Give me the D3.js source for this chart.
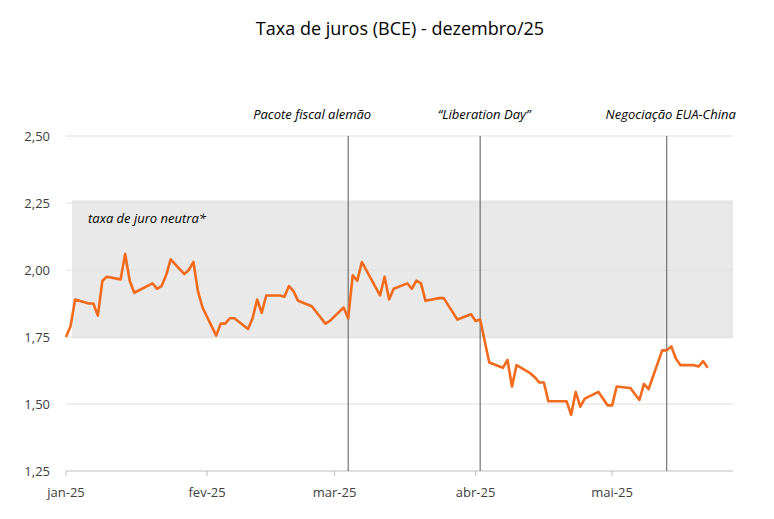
<!DOCTYPE html>
<html><head><meta charset="utf-8">
<script src="https://cdn.jsdelivr.net/npm/d3@7"></script>
<style>body{margin:0;background:#fff}text{font-family:"Open Sans","Liberation Sans",sans-serif}</style>
</head><body><svg id="c" width="774" height="519"></svg>
<script>
const dates = ["2025-01-01","2025-01-02","2025-01-03","2025-01-06","2025-01-07","2025-01-08","2025-01-09","2025-01-10","2025-01-13","2025-01-14","2025-01-15","2025-01-16","2025-01-20","2025-01-21","2025-01-22","2025-01-23","2025-01-24","2025-01-27","2025-01-28","2025-01-29","2025-01-30","2025-01-31","2025-02-03","2025-02-04","2025-02-05","2025-02-06","2025-02-07","2025-02-10","2025-02-11","2025-02-12","2025-02-13","2025-02-14","2025-02-17","2025-02-18","2025-02-19","2025-02-20","2025-02-21","2025-02-24","2025-02-27","2025-02-28","2025-03-03","2025-03-04","2025-03-05","2025-03-06","2025-03-07","2025-03-11","2025-03-12","2025-03-13","2025-03-14","2025-03-17","2025-03-18","2025-03-19","2025-03-20","2025-03-21","2025-03-24","2025-03-25","2025-03-28","2025-03-31","2025-04-01","2025-04-02","2025-04-04","2025-04-07","2025-04-08","2025-04-09","2025-04-10","2025-04-13","2025-04-14","2025-04-15","2025-04-16","2025-04-17","2025-04-21","2025-04-22","2025-04-23","2025-04-24","2025-04-25","2025-04-28","2025-04-30","2025-05-01","2025-05-02","2025-05-05","2025-05-07","2025-05-08","2025-05-09","2025-05-12","2025-05-13","2025-05-14","2025-05-15","2025-05-16","2025-05-19","2025-05-20","2025-05-21","2025-05-22"];
const rates = [1.75,1.79,1.89,1.875,1.875,1.83,1.96,1.975,1.965,2.06,1.96,1.915,1.95,1.93,1.94,1.98,2.04,1.985,2.00,2.03,1.92,1.86,1.755,1.80,1.80,1.82,1.82,1.78,1.82,1.89,1.84,1.905,1.905,1.90,1.94,1.92,1.885,1.865,1.80,1.81,1.86,1.82,1.98,1.96,2.03,1.905,1.975,1.89,1.93,1.95,1.93,1.96,1.95,1.885,1.895,1.895,1.815,1.835,1.81,1.815,1.655,1.635,1.665,1.565,1.645,1.615,1.60,1.58,1.58,1.51,1.51,1.46,1.545,1.49,1.52,1.545,1.495,1.495,1.565,1.56,1.515,1.575,1.555,1.70,1.70,1.715,1.67,1.645,1.645,1.64,1.66,1.635];
const yTicks = [1.25,1.50,1.75,2.00,2.25,2.50];
const monthTicks = ["2025-01-01","2025-02-01","2025-03-01","2025-04-01","2025-05-01"];
const monthLabels = ["jan-25","fev-25","mar-25","abr-25","mai-25"];
const neutralBand = [1.745,2.26];
const events = [{date:"2025-03-04",label:"Pacote fiscal alemão",dx:-36},{date:"2025-04-02",label:"\u201cLiberation Day\u201d",dx:4},{date:"2025-05-13",label:"Negociação EUA-China",dx:4}];
const title = "Taxa de juros (BCE) - dezembro/25";

const p = d3.timeParse("%Y-%m-%d");
const svg = d3.select("#c");
const x = d3.scaleTime().domain([p("2025-01-01"), p("2025-05-28")]).range([66,735]);
const y = d3.scaleLinear().domain([1.25,2.5]).range([471,136]);

svg.append("text").attr("x",400).attr("y",35).attr("text-anchor","middle").attr("font-size",18).text(title);

svg.append("rect").attr("x",72).attr("width",733-72).attr("y",y(neutralBand[1])).attr("height",y(neutralBand[0])-y(neutralBand[1])).attr("fill","#e9e9e9");
svg.append("text").attr("x",88).attr("y",223).attr("font-size",13).attr("font-style","italic").text("taxa de juro neutra*");

svg.selectAll(".g").data(yTicks.slice(1)).join("line").attr("x1",66).attr("x2",733).attr("y1",d=>y(d)).attr("y2",d=>y(d)).attr("stroke","#dedede");
svg.append("line").attr("x1",66).attr("x2",733).attr("y1",y(1.25)).attr("y2",y(1.25)).attr("stroke","#bfbfbf");
svg.selectAll(".yl").data(yTicks).join("text").attr("x",50).attr("y",d=>y(d)+5).attr("text-anchor","end").attr("font-size",13).attr("fill","#404040").text(d=>d.toFixed(2).replace(".",","));
svg.selectAll(".xt").data(monthTicks).join("line").attr("x1",d=>x(p(d))).attr("x2",d=>x(p(d))).attr("y1",471).attr("y2",476).attr("stroke","#bfbfbf");
svg.selectAll(".xl").data(monthTicks).join("text").attr("x",d=>x(p(d))).attr("y",497).attr("text-anchor","middle").attr("font-size",13).attr("fill","#404040").text((d,i)=>monthLabels[i]);

svg.selectAll(".ev").data(events).join("line").attr("x1",d=>x(p(d.date))).attr("x2",d=>x(p(d.date))).attr("y1",136).attr("y2",471).attr("stroke","#595959").attr("stroke-width",1);
svg.selectAll(".evl").data(events).join("text").attr("x",d=>x(p(d.date))+d.dx).attr("y",119).attr("text-anchor","middle").attr("font-size",13).attr("font-style","italic").text(d=>d.label);

const line = d3.line().x((d,i)=>x(p(dates[i]))).y(d=>y(d));
svg.append("path").attr("d",line(rates)).attr("fill","none").attr("stroke","#f26a1b").attr("stroke-width",2.6).attr("stroke-linejoin","round");
</script></body></html>
